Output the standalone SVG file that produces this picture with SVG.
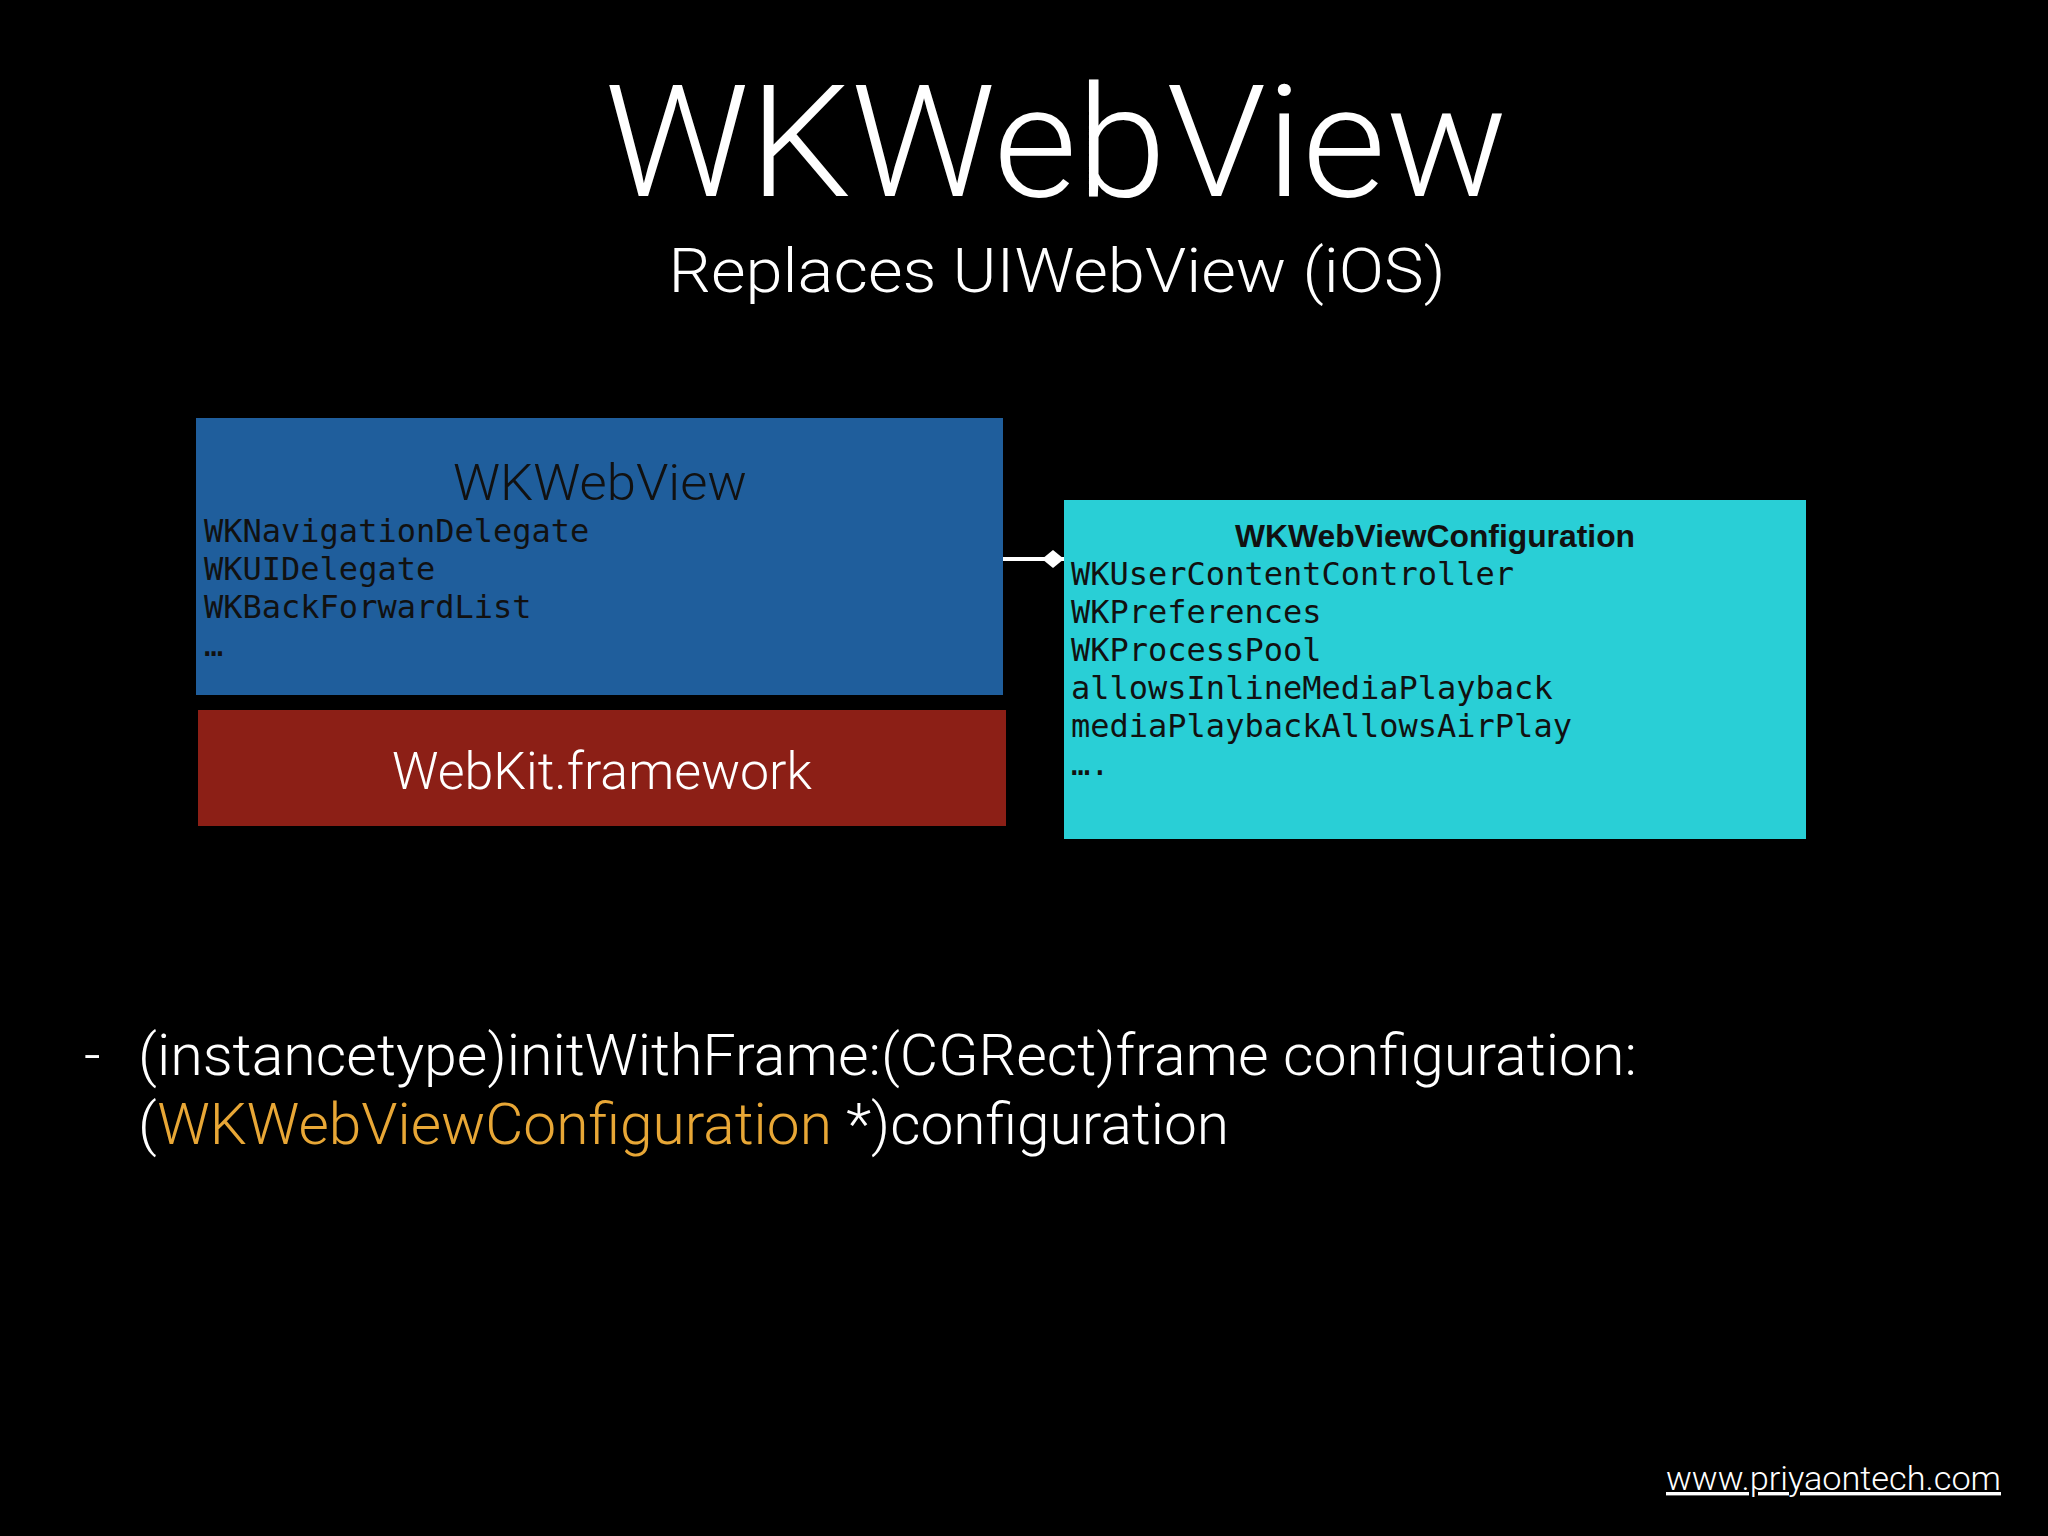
<svg xmlns="http://www.w3.org/2000/svg" width="2048" height="1536" viewBox="0 0 2048 1536">
<style>
.light{font-family:Roboto,"Liberation Sans",Arial,sans-serif;font-weight:300}
.mono{font-family:"DejaVu Sans Mono","Liberation Mono",monospace;font-size:32px;fill:#111}
.bold{font-family:"Liberation Sans",Arial,sans-serif;font-weight:bold}
</style>
<defs>
<marker id="diamond" markerUnits="userSpaceOnUse" markerWidth="24" markerHeight="20" refX="22" refY="9" orient="auto">
<path d="M0,9 L11,0 L22,9 L11,18 Z" fill="#fff"/>
</marker>
</defs>
<rect x="0" y="0" width="2048" height="1536" fill="#000"/>
<g id="title">
<text class="light" x="1056" y="196" font-size="156" fill="#fff" text-anchor="middle" textLength="903" lengthAdjust="spacingAndGlyphs">WKWebView</text>
<text class="light" x="1057" y="292" font-size="62" fill="#fff" text-anchor="middle" textLength="777" lengthAdjust="spacingAndGlyphs">Replaces UIWebView (iOS)</text>
</g>
<g id="wkwebview">
<rect x="196" y="418" width="807" height="277" fill="#1F5E9C"/>
<text class="light" x="600" y="500" font-size="50" fill="#111" text-anchor="middle" textLength="294" lengthAdjust="spacingAndGlyphs">WKWebView</text>
<text class="mono" x="204" y="542">WKNavigationDelegate</text>
<text class="mono" x="204" y="580">WKUIDelegate</text>
<text class="mono" x="204" y="618">WKBackForwardList</text>
<text class="mono" x="204" y="656">…</text>
</g>
<g id="webkit">
<rect x="198" y="710" width="808" height="116" fill="#8C1F16"/>
<text class="light" x="602" y="789" font-size="52" fill="#fff" text-anchor="middle" textLength="420" lengthAdjust="spacingAndGlyphs">WebKit.framework</text>
</g>
<g id="configuration">
<rect x="1064" y="500" width="742" height="339" fill="#29CFD6"/>
<text class="bold" x="1435" y="547" font-size="31" fill="#111" text-anchor="middle" textLength="400" lengthAdjust="spacingAndGlyphs">WKWebViewConfiguration</text>
<text class="mono" x="1071" y="585">WKUserContentController</text>
<text class="mono" x="1071" y="623">WKPreferences</text>
<text class="mono" x="1071" y="661">WKProcessPool</text>
<text class="mono" x="1071" y="699">allowsInlineMediaPlayback</text>
<text class="mono" x="1071" y="737">mediaPlaybackAllowsAirPlay</text>
<text class="mono" x="1071" y="775">….</text>
</g>
<g id="connectors">
<line x1="1003" y1="559" x2="1064" y2="559" stroke="#fff" stroke-width="4" marker-end="url(#diamond)"/>
</g>
<g id="method">
<text class="light" x="84" y="1075" font-size="58" fill="#fff">-</text>
<text class="light" x="138" y="1075" font-size="58" fill="#fff" textLength="1499" lengthAdjust="spacingAndGlyphs">(instancetype)initWithFrame:(CGRect)frame configuration:</text>
<text class="light" x="138" y="1144" font-size="58" fill="#fff" textLength="1091" lengthAdjust="spacingAndGlyphs">(<tspan fill="#E8A736">WKWebViewConfiguration</tspan> *)configuration</text>
</g>
<g id="footer">
<text class="light" x="1666" y="1490" font-size="34" fill="#fff" text-decoration="underline" textLength="335" lengthAdjust="spacingAndGlyphs">www.priyaontech.com</text>
</g>
</svg>
